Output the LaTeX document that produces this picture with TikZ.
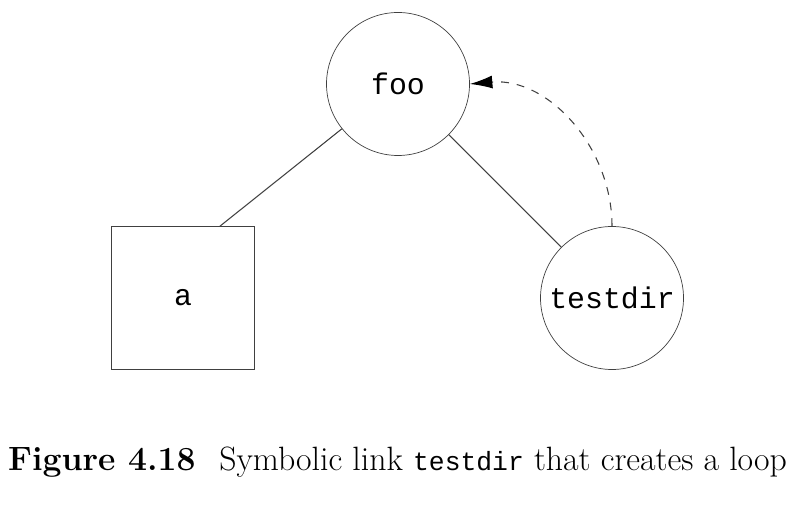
\documentclass[tikz,border=0pt]{standalone}
\usepackage{fontspec}
\setmonofont{Liberation Mono}
\usetikzlibrary{arrows.meta,positioning,calc}
\tikzstyle{dir} = [draw=black!75, circle, minimum size=2.86cm, inner sep=0pt, font=\fontsize{17}{17}\selectfont\ttfamily]
\tikzstyle{file} = [draw=black!75, rectangle, minimum size=2.86cm, inner sep=0pt, font=\fontsize{17}{17}\selectfont\ttfamily]
\tikzstyle{link} = [draw=black!75, line width=0.6pt]

\begin{document}
\begin{tikzpicture}[>={Latex[length=4.5mm,width=2.6mm,color=black]}]
\useasboundingbox (0,0) rectangle (16,10.14);
\node[dir] (foo) at (7.96,8.46) {foo};
\node[file] (a) at (3.66,4.18) {a};
\node[dir] (testdir) at (12.24,4.18) {testdir};
\coordinate (a top) at ($(a.north)+(0.74,0)$);

\draw[link] (foo) -- (a top);
\draw[link] (foo) -- (testdir);
\draw[link,dash pattern=on 4.5pt off 4.5pt,->] (testdir.north) to[out=90,in=5] (foo.east);

\node (caption) at (7.95,0.9) {\fontsize{19.2}{22}\selectfont\textbf{Figure 4.18}\hspace{0.7em}Symbolic link {\fontsize{15}{22}\selectfont\texttt{testdir}} that creates a loop};
\end{tikzpicture}
\end{document}
